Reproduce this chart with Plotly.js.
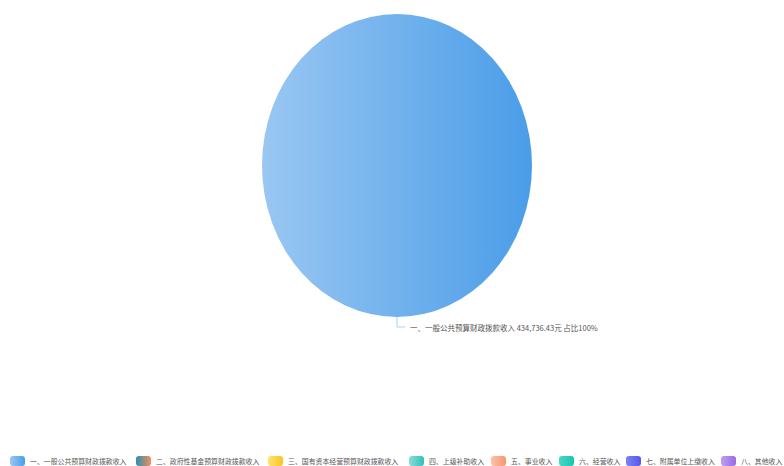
<!DOCTYPE html>
<html>
<head>
<meta charset="utf-8">
<script src="https://cdn.plot.ly/plotly-3.0.1.min.js"></script>
<style>html,body{margin:0;padding:0;background:#fff;}#chart{width:784px;height:466px;}</style>
</head>
<body>
<div id="chart"></div>
<script>
const categories = [
  "一、一般公共预算财政拨款收入",
  "二、政府性基金预算财政拨款收入",
  "三、国有资本经营预算财政拨款收入",
  "四、上级补助收入",
  "五、事业收入",
  "六、经营收入",
  "七、附属单位上缴收入",
  "八、其他收入"
];
const values = [434736.43, 0, 0, 0, 0, 0, 0, 0];
const colors = ["#74b3ec", "#8a8f8c", "#fbd34a", "#5ccfc8", "#f9a98b", "#2ccab6", "#6a6cf0", "#a882e8"];
const gradStart = ["#9ac7f2", "#2c8eae", "#fde46e", "#8cdcd4", "#fcc2a8", "#4ad7c4", "#7d81f6", "#c09ef1"];
const gradEnd   = ["#4a9de8", "#f28f60", "#f9c423", "#33c0bc", "#f6976f", "#19c3ae", "#5658e7", "#986be4"];

const W = 784, H = 466;
const px = x => x / W;
const py = y => 1 - y / H;

const total = values.reduce((a, b) => a + b, 0);
const fmt = v => v.toLocaleString("en-US", {minimumFractionDigits: 2, maximumFractionDigits: 2});
const labelText = categories[0] + " " + fmt(values[0]) + "元 占比" + Math.round(values[0] / total * 100) + "%";

// legend layout (pixel positions of each entry's swatch)
const legendX = [10, 136, 268, 409, 491, 559, 626, 721];
const legendY = 461;

function roundRect(x0, y0, w, h, r) {
  const X = v => px(v), Y = v => py(v);
  return "M " + X(x0 + r) + " " + Y(y0) +
    " L " + X(x0 + w - r) + " " + Y(y0) +
    " Q " + X(x0 + w) + " " + Y(y0) + " " + X(x0 + w) + " " + Y(y0 + r) +
    " L " + X(x0 + w) + " " + Y(y0 + h - r) +
    " Q " + X(x0 + w) + " " + Y(y0 + h) + " " + X(x0 + w - r) + " " + Y(y0 + h) +
    " L " + X(x0 + r) + " " + Y(y0 + h) +
    " Q " + X(x0) + " " + Y(y0 + h) + " " + X(x0) + " " + Y(y0 + h - r) +
    " L " + X(x0) + " " + Y(y0 + r) +
    " Q " + X(x0) + " " + Y(y0) + " " + X(x0 + r) + " " + Y(y0) + " Z";
}

const shapes = [];
const annotations = [];
categories.forEach((c, i) => {
  shapes.push({
    type: "path", xref: "paper", yref: "paper",
    path: roundRect(legendX[i], legendY - 5, 15, 10, 3),
    fillcolor: colors[i], line: {width: 0}
  });
  annotations.push({
    xref: "paper", yref: "paper",
    x: px(legendX[i] + 18), y: py(legendY),
    xanchor: "left", yanchor: "middle",
    text: c, showarrow: false,
    font: {size: 6.9, color: "#555"}
  });
});
// leader line for the slice label
shapes.push({
  type: "path", xref: "paper", yref: "paper",
  path: "M " + px(397) + " " + py(317) + " L " + px(397) + " " + py(327) + " L " + px(405) + " " + py(327),
  line: {color: "#a9d3f0", width: 1}
});
annotations.push({
  xref: "paper", yref: "paper",
  x: px(408), y: py(327),
  xanchor: "left", yanchor: "middle",
  text: labelText, showarrow: false,
  font: {size: 7.5, color: "#555"}
});

const trace = {
  type: "pie",
  labels: categories,
  values: values,
  sort: false,
  direction: "clockwise",
  domain: {x: [px(10), 1], y: [py(317), py(14)]},
  marker: {colors: colors, line: {width: 0}},
  textinfo: "none",
  hoverinfo: "label+value+percent",
  showlegend: false
};

const layout = {
  width: W,
  height: H,
  margin: {l: 0, r: 0, t: 0, b: 0},
  paper_bgcolor: "#ffffff",
  font: {family: "Noto Sans CJK SC, sans-serif", size: 9, color: "#555"},
  showlegend: false,
  annotations: annotations,
  shapes: shapes
};

const gd = document.getElementById("chart");
Plotly.newPlot(gd, [trace], layout, {displayModeBar: false, staticPlot: true}).then(() => {
  const ns = "http://www.w3.org/2000/svg";
  const svg = gd.querySelector("svg.main-svg");
  let defs = svg.querySelector("defs");
  if (!defs) { defs = document.createElementNS(ns, "defs"); svg.insertBefore(defs, svg.firstChild); }
  categories.forEach((c, i) => {
    const g = document.createElementNS(ns, "linearGradient");
    g.setAttribute("id", "grad" + i);
    g.setAttribute("x1", "0"); g.setAttribute("y1", "0");
    g.setAttribute("x2", "1"); g.setAttribute("y2", "0");
    [[0, gradStart[i]], [1, gradEnd[i]]].forEach(([o, col]) => {
      const s = document.createElementNS(ns, "stop");
      s.setAttribute("offset", o);
      s.setAttribute("stop-color", col);
      g.appendChild(s);
    });
    defs.appendChild(g);
  });
  gd.querySelectorAll(".pielayer .slice path.surface").forEach((p, i) => {
    p.style.fill = "url(#grad" + i + ")";
  });
  const shapePaths = gd.querySelectorAll(".layer-above .shapelayer path");
  shapePaths.forEach((p, i) => {
    if (i < categories.length) p.style.fill = "url(#grad" + i + ")";
  });
  const pl = gd.querySelector(".pielayer");
  if (pl) pl.setAttribute("transform", "translate(397,0) scale(0.891,1) translate(-397,0)");
});
</script>
</body>
</html>
